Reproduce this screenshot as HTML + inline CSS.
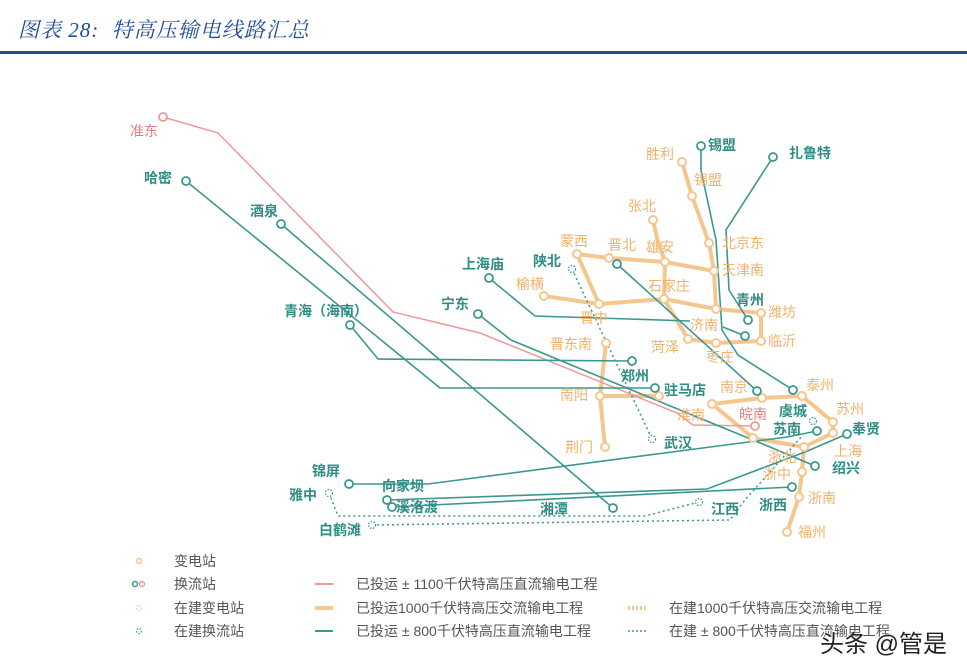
<!DOCTYPE html>
<html><head><meta charset="utf-8">
<style>
html,body{margin:0;padding:0;background:#fff;}
body{width:967px;height:672px;overflow:hidden;position:relative;font-family:"Liberation Sans","Noto Sans CJK SC",sans-serif;}
#title{position:absolute;left:18px;top:14px;font-family:"Liberation Serif","Noto Serif CJK SC",serif;font-style:italic;font-size:21px;color:#1f4e96;letter-spacing:1px;}
#rule{position:absolute;left:0;top:51px;width:967px;height:3px;background:#1f4e96;}
svg{position:absolute;left:0;top:0;}
text{font-family:"Liberation Sans","Noto Sans CJK SC",sans-serif;font-size:14px;}
#wm{position:absolute;left:820px;top:624px;font-size:24px;color:#222;font-family:"Liberation Sans","Noto Sans CJK SC",sans-serif;text-shadow:0 0 2px #fff,0 0 2px #fff;}
</style></head><body>
<div id="title">图表 28:&nbsp; 特高压输电线路汇总</div>
<div id="rule"></div>
<svg id="map" width="967" height="672"></svg>
<div id="wm">头条 @管是</div>
<script>
const OR='#f5c68e', TE='#3a9890', RD='#ec9a9a';
const ORT='#f0b26a', TET='#2f8d86', RDT='#e88080';
// AC built lines (1000kV)
const acLines=[
 [[682,162],[692,196],[709,243],[714,271],[716,309],[761,313],[761,341],[716,343],[688,339],[664,299]],
 [[653,220],[657,238],[665,262]],
 [[577,254],[609,258],[665,262],[714,271]],
 [[577,254],[599,304]],
 [[544,296],[599,304],[664,299],[716,309]],
 [[665,262],[664,299]],
 [[606,343],[600,396],[605,447]],
 [[600,396],[659,396]],
 [[712,404],[762,398],[802,396],[833,422],[833,433],[804,447],[753,438],[712,404]],
 [[804,447],[802,472],[799,497],[787,532]]
];
const acNodes=[[682,162],[692,196],[709,243],[714,271],[716,309],[761,313],[761,341],[716,343],[688,339],[664,299],[653,220],[665,262],[609,258],[577,254],[599,304],[544,296],[606,343],[600,396],[605,447],[659,396],[712,404],[762,398],[802,396],[833,422],[833,433],[804,447],[753,438],[802,472],[799,497],[787,532]];
// DC ±800 built
const dcLines=[
 [[186,181],[440,388],[655,388]],
 [[350,325],[378,359],[632,361]],
 [[281,224],[613,508]],
 [[478,314],[511,340],[680,410],[770,447],[815,466]],
 [[489,278],[535,316],[690,321]],
 [[723,327],[745,336]],
 [[617,264],[757,391]],
 [[701,146],[701,170],[716,240],[722,330],[738,355],[793,390]],
 [[773,157],[726,230],[729,290],[748,320]],
 [[349,484],[428,484],[695,449],[787,437],[817,431]],
 [[387,500],[707,489],[805,452],[847,434]],
 [[392,507],[792,487]]
];
const dcNodes=[[186,181],[655,388],[350,325],[632,361],[281,224],[613,508],[478,314],[815,466],[489,278],[745,336],[617,264],[757,391],[701,146],[793,390],[773,157],[748,320],[349,484],[817,431],[387,500],[392,507],[847,434],[792,487]];
// DC ±1100 built
const uhLine=[[163,117],[218,133],[393,312],[480,333],[677,413],[693,425],[755,426]];
const uhNodes=[[163,117],[755,426]];
// DC under construction
const dashLines=[
 [[572,269],[652,439]],
 [[329,493],[338,516],[645,516],[699,502]],
 [[372,525],[730,520],[745,500],[803,435]]
];
const dashNodes=[[572,269],[652,439],[329,493],[699,502],[372,525],[813,421]];
// labels: name, x, y, kind
const labelNames=['准东','哈密','酒泉','青海（海南）','宁东','上海庙','陕北','蒙西','晋北','雄安','张北','胜利','锡盟','锡盟','扎鲁特','北京东','天津南','榆横','石家庄','青州','潍坊','晋中','济南','临沂','晋东南','菏泽','枣庄','郑州','驻马店','南阳','南京','泰州','淮南','皖南','虞城','苏州','苏南','奉贤','荆门','武汉','上海','浙北','浙中','绍兴','锦屏','向家坝','雅中','溪洛渡','湘潭','江西','浙西','浙南','福州','白鹤滩'];
const labelX=[130,144,250,284,441,462,533,560,608,646,628,646,708,694,789,722,722,516,648,736,768,580,690,768,550,651,706,621,664,560,720,806,677,739,779,836,773,852,565,664,834,768,763,832,312,382,289,396,540,711,759,808,798,319];
const labelY=[136,183,216,316,309,269,266,246,250,252,211,159,150,185,158,248,275,289,291,305,317,323,330,346,349,352,362,381,395,400,392,390,420,419,416,414,434,434,452,448,456,462,479,473,476,491,500,512,514,514,510,503,537,535];
const labelKind=['r','t','t','t','t','t','t','o','o','o','o','o','t','o','t','o','o','o','o','t','o','o','o','o','o','o','o','t','t','o','o','o','o','r','t','o','t','t','o','t','o','o','o','t','t','t','t','t','t','t','t','o','o','t'];

const svg=document.getElementById('map');
const NS='http://www.w3.org/2000/svg';
function mk(tag,attrs){const e=document.createElementNS(NS,tag);for(const k in attrs)e.setAttribute(k,attrs[k]);svg.appendChild(e);return e;}
function pts(a){return a.map(p=>p.join(',')).join(' ');}

acLines.forEach(l=>{const e=mk('polyline',{points:pts(l),fill:'none',stroke:OR,'stroke-width':4,'stroke-linejoin':'round'});

});
{const e=mk('polyline',{points:pts(uhLine),fill:'none',stroke:RD,'stroke-width':1.5});

}
dcLines.forEach(l=>{const e=mk('polyline',{points:pts(l),fill:'none',stroke:TE,'stroke-width':1.6});

});
dashLines.forEach(l=>{const e=mk('polyline',{points:pts(l),fill:'none',stroke:TE,'stroke-width':1.5,'stroke-dasharray':'2,3'});

});
acNodes.forEach(p=>{const e=mk('circle',{cx:p[0],cy:p[1],r:4,fill:'#fff',stroke:OR,'stroke-width':2});

});
dcNodes.forEach(p=>{const e=mk('circle',{cx:p[0],cy:p[1],r:4,fill:'#fff',stroke:TE,'stroke-width':1.8});

});
uhNodes.forEach(p=>{const e=mk('circle',{cx:p[0],cy:p[1],r:4,fill:'#fff',stroke:RD,'stroke-width':1.8});

});
dashNodes.forEach(p=>{const e=mk('circle',{cx:p[0],cy:p[1],r:3.5,fill:'#fff',stroke:TE,'stroke-width':1.3,'stroke-dasharray':'1.5,1.5'});

});
labelNames.forEach((n,i)=>{const k=labelKind[i];const e=mk('text',{x:labelX[i],y:labelY[i],fill:k==='o'?ORT:(k==='r'?RDT:TET),'font-weight':k==='t'?'bold':'normal'});e.textContent=n;

});

// legend
const legSym=[['sub',139,561,'变电站'],['conv',139,584,'换流站'],['subc',139,608,'在建变电站'],['convc',139,631,'在建换流站']];
legSym.forEach(s=>{
 const g=document.createElementNS(NS,'g');svg.appendChild(g);
 
 
 const add=(t,a)=>{const e=document.createElementNS(NS,t);for(const k in a)e.setAttribute(k,a[k]);g.appendChild(e);return e;};
 if(s[0]==='sub')add('circle',{cx:s[1],cy:s[2],r:2.5,fill:'none',stroke:OR,'stroke-width':1.5});
 if(s[0]==='conv'){add('circle',{cx:s[1]-4,cy:s[2],r:2.5,fill:'none',stroke:TE,'stroke-width':1.5});add('circle',{cx:s[1]+3,cy:s[2],r:2.5,fill:'none',stroke:RD,'stroke-width':1.5});}
 if(s[0]==='subc')add('circle',{cx:s[1],cy:s[2],r:2.5,fill:'none',stroke:OR,'stroke-width':1.2,'stroke-dasharray':'1.5,1.5'});
 if(s[0]==='convc')add('circle',{cx:s[1],cy:s[2],r:2.5,fill:'none',stroke:TE,'stroke-width':1.2,'stroke-dasharray':'1.5,1.5'});
 const t=add('text',{x:174,y:s[2]+5,fill:'#555','font-size':13});t.textContent=s[3];
});
const legLine=[[315,584,RD,2,'','已投运 ± 1100千伏特高压直流输电工程'],[315,608,OR,4,'','已投运1000千伏特高压交流输电工程'],[315,631,TE,2,'','已投运 ± 800千伏特高压直流输电工程'],[628,608,OR,4,'2,2','在建1000千伏特高压交流输电工程'],[628,631,TE,1.5,'2,2','在建 ± 800千伏特高压直流输电工程']];
legLine.forEach(s=>{
 const g=document.createElementNS(NS,'g');svg.appendChild(g);
 
 
 const l=document.createElementNS(NS,'line');
 const a={x1:s[0],y1:s[1],x2:s[0]+18,y2:s[1],stroke:s[2],'stroke-width':s[3]};if(s[4])a['stroke-dasharray']=s[4];
 for(const k in a)l.setAttribute(k,a[k]);g.appendChild(l);
 const t=document.createElementNS(NS,'text');t.setAttribute('x',s[0]+41);t.setAttribute('y',s[1]+5);t.setAttribute('fill','#555');t.setAttribute('font-size','13');t.textContent=s[5];g.appendChild(t);
});
</script>
</body></html>
